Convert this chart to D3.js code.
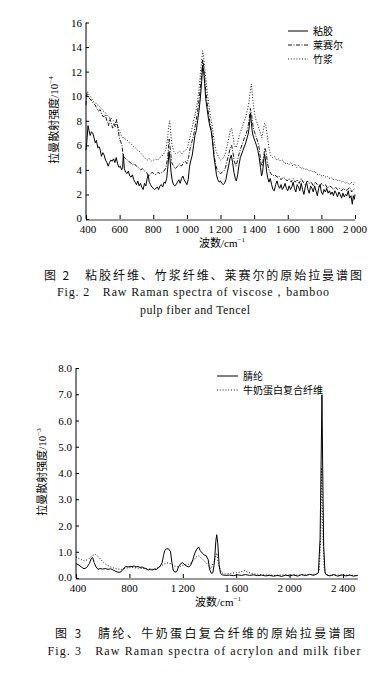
<!DOCTYPE html>
<html>
<head>
<meta charset="utf-8">
<script src="https://cdn.jsdelivr.net/npm/d3@7"></script>
<style>
  html, body { margin: 0; padding: 0; background: #fff; }
  svg { display: block; }
</style>
</head>
<body>
<svg id="chart" width="389" height="674"></svg>
<script>
// ---- Fig. 2 data (wavenumber cm-1, intensity 10^-4) ----
const viscose = [
  [400,5.6],[405,6.3],[412,7.6],[418,7.2],[425,6.8],[432,7.1],[440,7.0],[448,6.6],[455,6.2],[462,6.4],
  [470,5.8],[478,5.9],[485,5.6],[492,5.1],[500,5.4],[508,5.2],[516,4.8],[524,4.6],[532,4.3],[540,4.6],
  [548,4.8],[556,4.7],[564,4.9],[572,4.6],[580,5.0],[588,4.5],[596,4.2],[604,4.3],[612,4.0],[618,4.2],
  [622,5.3],[628,4.1],[636,3.8],[644,3.7],[652,3.9],[660,3.5],[668,3.4],[676,3.6],[684,3.2],[692,3.0],
  [700,2.8],[708,3.1],[716,2.7],[724,2.9],[732,2.6],[740,2.4],[748,2.9],[756,2.7],[764,3.3],[770,3.6],
  [776,3.0],[784,2.8],[792,2.6],[800,2.5],[808,2.4],[816,2.5],[824,2.6],[832,2.4],[840,2.7],[848,2.8],
  [856,2.6],[864,3.0],[872,2.9],[880,3.3],[888,4.4],[894,5.5],[900,4.8],[906,3.8],[912,3.2],[920,2.8],
  [928,2.7],[936,2.8],[944,3.0],[952,3.2],[960,2.9],[968,3.3],[976,3.5],[984,3.2],[992,3.0],[1000,2.8],
  [1008,3.2],[1016,4.3],[1024,4.8],[1032,5.2],[1040,6.0],[1048,6.8],[1056,7.2],[1064,8.0],[1072,8.8],[1080,9.8],
  [1088,11.2],[1094,12.5],[1100,12.0],[1106,11.0],[1112,9.8],[1120,9.0],[1128,8.2],[1136,7.6],[1144,7.2],[1152,6.4],
  [1160,5.2],[1168,4.4],[1176,3.6],[1184,3.2],[1192,3.0],[1200,3.1],[1208,2.9],[1216,2.8],[1224,2.9],[1232,3.2],
  [1240,3.8],[1248,4.3],[1256,4.9],[1264,5.2],[1272,4.6],[1280,3.8],[1288,3.3],[1294,3.1],[1302,3.6],[1310,4.4],
  [1318,5.0],[1326,5.3],[1334,5.6],[1342,5.9],[1350,6.2],[1358,6.6],[1366,7.0],[1372,7.6],[1378,8.6],[1384,7.8],
  [1390,7.0],[1398,6.6],[1406,6.3],[1414,6.0],[1422,5.6],[1430,5.0],[1438,4.2],[1444,3.5],[1450,3.8],[1456,4.6],
  [1462,5.3],[1468,4.8],[1474,3.9],[1480,3.4],[1488,3.0],[1496,3.3],[1504,2.8],[1512,2.4],[1520,2.3],[1528,2.8],
  [1536,3.1],[1544,2.7],[1552,2.5],[1560,2.8],[1568,2.4],[1576,2.6],[1584,2.9],[1592,2.5],[1600,2.3],[1608,2.7],
  [1616,2.4],[1624,2.6],[1632,3.0],[1640,2.5],[1648,2.2],[1656,2.8],[1664,2.6],[1672,2.3],[1680,2.9],[1688,2.4],
  [1696,2.0],[1704,2.6],[1712,3.0],[1720,2.4],[1728,2.1],[1736,2.7],[1744,2.5],[1752,2.2],[1760,2.7],[1768,2.3],
  [1776,1.9],[1784,2.5],[1792,2.8],[1800,2.2],[1808,2.0],[1816,2.4],[1824,2.2],[1832,2.5],[1840,2.1],[1848,2.3],
  [1856,2.0],[1864,2.2],[1872,1.9],[1880,2.3],[1888,2.1],[1896,1.8],[1904,2.2],[1912,2.0],[1920,1.7],[1928,2.1],
  [1936,1.8],[1944,2.0],[1952,1.9],[1960,2.3],[1968,1.7],[1976,1.9],[1984,1.2],[1990,1.9],[1996,1.6],[2000,2.0]
];
const lyocell = [
  [400,9.3],[406,10.2],[414,9.9],[424,9.8],[434,9.6],[444,9.4],[454,9.3],[464,9.0],[474,8.8],[484,8.9],
  [494,8.5],[504,8.3],[514,8.5],[524,8.0],[534,7.6],[542,8.2],[550,7.8],[558,7.4],[566,7.8],[574,7.5],
  [582,8.1],[590,7.4],[598,6.6],[606,6.3],[614,6.0],[620,5.2],[628,5.0],[640,4.9],[652,4.7],[664,4.6],
  [676,4.4],[688,4.5],[700,4.3],[712,4.2],[724,4.0],[736,4.1],[748,3.9],[760,3.8],[772,3.5],[782,3.6],
  [792,3.8],[804,3.7],[816,3.6],[828,3.8],[840,3.7],[852,3.8],[864,3.9],[876,4.2],[886,5.0],[894,6.5],
  [902,5.6],[910,4.6],[920,4.3],[932,4.1],[944,4.3],[956,4.5],[968,4.3],[980,4.6],[992,4.7],[1000,4.5],
  [1010,5.0],[1020,5.8],[1030,6.3],[1040,6.8],[1050,7.6],[1060,8.4],[1070,9.4],[1080,10.6],[1088,11.8],[1094,13.0],
  [1100,12.4],[1108,11.0],[1116,10.0],[1124,9.0],[1132,8.3],[1140,7.6],[1148,7.0],[1156,6.0],[1164,5.0],[1172,4.4],
  [1180,4.0],[1190,3.8],[1200,3.7],[1210,3.8],[1220,3.9],[1230,4.2],[1240,4.8],[1250,5.3],[1258,5.8],[1266,6.0],
  [1274,5.4],[1282,4.7],[1292,4.3],[1302,4.8],[1312,5.4],[1322,5.8],[1332,6.2],[1342,6.6],[1352,6.9],[1362,7.4],
  [1370,8.0],[1378,9.0],[1386,8.4],[1394,7.5],[1404,7.0],[1414,6.6],[1424,6.2],[1432,5.6],[1440,4.6],[1448,4.3],
  [1456,5.0],[1464,5.8],[1472,5.4],[1480,4.5],[1490,3.9],[1500,3.7],[1512,3.5],[1524,3.6],[1536,3.4],[1548,3.5],
  [1560,3.2],[1572,3.4],[1584,3.3],[1596,3.1],[1608,3.3],[1620,3.0],[1632,3.3],[1644,3.0],[1656,3.2],[1668,2.9],
  [1680,3.3],[1692,3.0],[1704,2.8],[1716,3.1],[1728,2.9],[1740,3.0],[1752,2.7],[1764,3.0],[1776,2.8],[1788,2.6],
  [1800,2.9],[1812,2.7],[1824,2.8],[1836,2.5],[1848,2.7],[1860,2.6],[1872,2.4],[1884,2.6],[1896,2.4],[1908,2.5],
  [1920,2.3],[1932,2.5],[1944,2.3],[1956,2.4],[1968,2.6],[1980,2.2],[1990,2.4],[2000,2.5]
];
const bamboo = [
  [400,10.0],[408,10.4],[418,10.1],[430,9.9],[442,9.6],[454,9.5],[466,9.3],[478,9.2],[490,9.0],[502,8.8],
  [514,8.7],[526,8.4],[538,8.3],[550,8.2],[562,8.0],[574,7.9],[586,7.6],[598,7.2],[610,6.8],[622,6.6],
  [634,6.5],[646,6.4],[658,6.2],[670,6.1],[682,5.9],[694,5.8],[706,5.6],[718,5.5],[730,5.3],[742,5.1],
  [754,4.9],[766,4.8],[778,4.9],[790,4.7],[802,4.8],[814,4.9],[826,4.8],[838,5.0],[850,5.1],[862,5.3],
  [874,5.6],[884,6.4],[892,7.6],[898,8.0],[904,7.0],[912,6.0],[922,5.5],[934,5.3],[946,5.4],[958,5.5],
  [970,5.3],[982,5.5],[994,5.6],[1004,5.8],[1014,6.4],[1024,7.0],[1034,7.6],[1044,8.2],[1054,8.8],[1064,9.6],
  [1074,10.8],[1084,12.4],[1094,13.7],[1100,13.2],[1108,12.0],[1116,11.0],[1124,10.0],[1132,9.2],[1140,8.4],[1148,7.8],
  [1156,7.0],[1164,6.2],[1172,5.6],[1180,5.3],[1190,5.0],[1200,4.8],[1210,4.9],[1220,5.0],[1230,5.4],[1240,6.0],
  [1250,6.6],[1258,7.2],[1266,7.4],[1274,6.8],[1282,6.0],[1292,5.8],[1302,6.2],[1312,6.8],[1322,7.2],[1332,7.6],
  [1342,8.0],[1352,8.4],[1362,9.0],[1370,9.6],[1378,10.6],[1384,11.0],[1390,10.0],[1398,9.0],[1408,8.2],[1418,7.8],
  [1428,7.4],[1438,7.0],[1446,6.6],[1454,7.2],[1462,7.8],[1470,7.6],[1478,6.8],[1488,5.8],[1498,5.2],[1510,5.0],
  [1522,5.1],[1534,4.8],[1546,4.9],[1558,4.7],[1570,4.8],[1582,4.5],[1594,4.6],[1606,4.4],[1618,4.6],[1630,4.3],
  [1642,4.5],[1654,4.2],[1666,4.4],[1678,4.1],[1690,4.2],[1702,4.0],[1714,4.1],[1726,3.9],[1738,4.0],[1750,3.8],
  [1762,3.9],[1774,3.6],[1786,3.7],[1798,3.5],[1810,3.6],[1822,3.4],[1834,3.5],[1846,3.3],[1858,3.4],[1870,3.2],
  [1882,3.3],[1894,3.1],[1906,3.2],[1918,3.0],[1930,3.1],[1942,2.9],[1954,3.0],[1966,2.8],[1978,3.0],[1990,2.8],[2000,3.0]
];
const fig2Names = ['粘胶', '莱赛尔', '竹浆'];
const fig2XTicks = [400, 600, 800, 1000, 1200, 1400, 1600, 1800, 2000];
const fig2YTicks = [0, 2, 4, 6, 8, 10, 12, 14, 16];

// ---- Fig. 3 data (wavenumber cm-1, intensity 10^-3) ----
const acrylon = [
  [400,0.55],[420,0.50],[440,0.42],[460,0.35],[480,0.40],[500,0.55],[515,0.75],[525,0.78],[535,0.60],[550,0.42],
  [565,0.33],[580,0.36],[600,0.34],[620,0.36],[640,0.33],[660,0.35],[680,0.30],[700,0.25],[715,0.22],[730,0.22],
  [745,0.28],[760,0.38],[775,0.44],[790,0.42],[805,0.45],[820,0.43],[835,0.46],[850,0.42],[865,0.44],[880,0.40],
  [895,0.42],[910,0.38],[925,0.36],[940,0.30],[955,0.34],[970,0.30],[985,0.34],[1000,0.32],[1015,0.38],[1030,0.45],
  [1045,0.58],[1055,0.85],[1065,1.05],[1080,1.12],[1095,1.10],[1108,1.00],[1118,0.60],[1128,0.30],[1140,0.22],[1155,0.25],
  [1170,0.45],[1185,0.55],[1200,0.58],[1215,0.50],[1230,0.45],[1245,0.42],[1260,0.50],[1275,0.70],[1290,0.95],[1305,1.10],
  [1318,1.18],[1330,1.05],[1345,0.95],[1360,0.88],[1375,0.85],[1390,0.70],[1400,0.35],[1412,0.18],[1425,0.20],[1437,0.60],
  [1447,1.40],[1454,1.65],[1462,1.30],[1472,0.50],[1482,0.18],[1495,0.12],[1520,0.10],[1550,0.11],[1580,0.09],[1610,0.12],
  [1640,0.10],[1670,0.13],[1700,0.10],[1730,0.12],[1760,0.09],[1790,0.11],[1820,0.08],[1850,0.10],[1880,0.07],[1910,0.10],
  [1940,0.06],[1970,0.11],[2000,0.08],[2030,0.12],[2060,0.07],[2090,0.13],[2120,0.09],[2150,0.14],[2180,0.10],[2200,0.15],
  [2215,0.20],[2228,1.50],[2236,4.50],[2242,6.98],[2248,4.00],[2255,1.20],[2265,0.20],[2275,0.12],[2300,0.08],[2330,0.13],
  [2360,0.07],[2390,0.12],[2420,0.08],[2450,0.11],[2480,0.07],[2510,0.10]
];
const milkFiber = [
  [400,0.80],[430,0.72],[460,0.65],[490,0.70],[520,0.85],[545,0.90],[570,0.80],[600,0.62],[630,0.50],[660,0.42],
  [700,0.35],[740,0.33],[780,0.38],[820,0.40],[860,0.38],[900,0.36],[940,0.34],[980,0.33],[1020,0.40],[1050,0.50],
  [1080,0.58],[1110,0.55],[1140,0.45],[1170,0.42],[1200,0.48],[1240,0.52],[1270,0.60],[1300,0.80],[1320,0.85],[1350,0.70],
  [1380,0.55],[1410,0.35],[1440,0.70],[1455,0.95],[1470,0.45],[1490,0.20],[1520,0.15],[1560,0.18],[1600,0.20],[1630,0.22],
  [1660,0.28],[1690,0.22],[1720,0.16],[1760,0.14],[1800,0.12],[1850,0.11],[1900,0.10],[1950,0.12],[2000,0.10],[2050,0.11],
  [2100,0.12],[2150,0.13],[2200,0.15],[2222,0.25],[2232,1.50],[2240,4.20],[2248,2.00],[2258,0.40],[2270,0.15],[2300,0.10],
  [2350,0.12],[2400,0.10],[2450,0.11],[2510,0.10]
];
const fig3Names = ['腈纶', '牛奶蛋白复合纤维'];
const fig3XTicks = [400, 800, 1200, 1600, 2000, 2400];
const fig3YTicks = [0, 1, 2, 3, 4, 5, 6, 7, 8];

const svg = d3.select('#chart');
const serif = '"Liberation Serif", "DejaVu Serif", serif';
const cjk = '"Noto Sans CJK SC", sans-serif';
const fmtThousands = v => v >= 1000 ? Math.floor(v / 1000) + '\u2009' + String(v % 1000).padStart(3, '0') : String(v);

function drawChart(cfg) {
  const x = d3.scaleLinear().domain(cfg.xDomain).range([cfg.left, cfg.right]);
  const y = d3.scaleLinear().domain(cfg.yDomain).range([cfg.bottom, cfg.top]);
  const g = svg.append('g');

  // x axis: grey thick base line, ticks pointing up
  const xAxis = g.append('g')
    .attr('transform', `translate(0,${cfg.bottom})`)
    .call(d3.axisTop(x).tickValues(cfg.xTicks).tickSize(4).tickFormat(''));
  xAxis.select('.domain').remove();
  xAxis.selectAll('line').attr('stroke', '#000');
  g.append('line')
    .attr('x1', cfg.left).attr('x2', cfg.right)
    .attr('y1', cfg.bottom + 1).attr('y2', cfg.bottom + 1)
    .attr('stroke', '#9a9a9a').attr('stroke-width', 2);
  g.append('g').selectAll('text')
    .data(cfg.xTicks).enter().append('text')
    .attr('x', d => x(d) + (d === cfg.xTicks[0] ? 2 : 0)).attr('y', cfg.bottom + 14)
    .attr('text-anchor', 'middle')
    .attr('font-family', serif).attr('font-size', 11)
    .text(fmtThousands);

  // y axis, ticks pointing right
  const yAxis = g.append('g')
    .attr('transform', `translate(${cfg.left},0)`)
    .call(d3.axisRight(y).tickValues(cfg.yTicks).tickSize(3).tickFormat(''));
  yAxis.select('.domain').attr('d', `M0,${cfg.bottom}V${cfg.top}`).attr('stroke', '#000');
  g.append('g').selectAll('text')
    .data(cfg.yTicks).enter().append('text')
    .attr('x', cfg.left - 4).attr('y', d => y(d) + (d === 0 ? 2.5 : 4))
    .attr('text-anchor', 'end')
    .attr('font-family', serif).attr('font-size', 11)
    .text(cfg.yFormat);

  // series
  const line = d3.line().x(d => x(d[0])).y(d => y(d[1]));
  cfg.series.forEach(s => {
    g.append('path')
      .datum(s.data)
      .attr('fill', 'none')
      .attr('stroke', '#000')
      .attr('stroke-width', s.width)
      .attr('stroke-dasharray', s.dash)
      .attr('stroke-linejoin', 'round')
      .attr('d', line);
  });

  // axis titles
  const xt = g.append('text')
    .attr('x', cfg.xTitleX).attr('y', cfg.xTitleY)
    .attr('text-anchor', 'middle')
    .attr('font-size', 11);
  xt.append('tspan').attr('font-family', cjk).text('波数');
  xt.append('tspan').attr('font-family', serif).text('/cm');
  xt.append('tspan').attr('font-family', serif).attr('font-size', 7).attr('dy', -5).text('−1');

  const yt = g.append('text')
    .attr('transform', `translate(${cfg.yTitleX},${cfg.yTitleY}) rotate(-90)`)
    .attr('text-anchor', 'middle')
    .attr('font-size', 11);
  yt.append('tspan').attr('font-family', cjk).text('拉曼散射强度');
  yt.append('tspan').attr('font-family', serif).text('/10');
  yt.append('tspan').attr('font-family', serif).attr('font-size', 7).attr('dy', -5).text(cfg.yExp);

  // legend
  cfg.series.forEach((s, i) => {
    const ly = cfg.legendY + i * cfg.legendStep;
    g.append('line')
      .attr('x1', cfg.legendX).attr('x2', cfg.legendX + cfg.legendLen)
      .attr('y1', ly).attr('y2', ly)
      .attr('stroke', '#000').attr('stroke-width', s.width)
      .attr('stroke-dasharray', s.dash);
    g.append('text')
      .attr('x', cfg.legendX + cfg.legendLen + 5).attr('y', ly + 3.5)
      .attr('font-family', cjk).attr('font-size', 10)
      .text(s.name);
  });
}

drawChart({
  xDomain: [400, 2000], yDomain: [0, 16],
  left: 86, right: 355, top: 22.5, bottom: 219,
  xTicks: fig2XTicks, yTicks: fig2YTicks, yFormat: d => d, yExp: '−4',
  xTitleX: 222, xTitleY: 247, yTitleX: 58, yTitleY: 120,
  legendX: 288, legendY: 31, legendStep: 14, legendLen: 20,
  series: [
    { name: fig2Names[0], data: viscose, width: 1, dash: null },
    { name: fig2Names[1], data: lyocell, width: 0.9, dash: '4,1.5,1,1.5' },
    { name: fig2Names[2], data: bamboo, width: 0.9, dash: '1,1.8' }
  ]
});

drawChart({
  xDomain: [400, 2512], yDomain: [0, 8],
  left: 76, right: 358, top: 368, bottom: 578,
  xTicks: fig3XTicks, yTicks: fig3YTicks, yFormat: d => d.toFixed(1), yExp: '−3',
  xTitleX: 218, xTitleY: 606, yTitleX: 46, yTitleY: 472,
  legendX: 217, legendY: 376, legendStep: 14, legendLen: 21,
  series: [
    { name: fig3Names[0], data: acrylon, width: 1, dash: null },
    { name: fig3Names[1], data: milkFiber, width: 0.9, dash: '1,1.8' }
  ]
});

// captions
function caption(txt, cx, cy, len, font, size) {
  svg.append('text')
    .attr('x', cx - len / 2).attr('y', cy)
    .attr('font-family', font).attr('font-size', size)
    .attr('textLength', len).attr('lengthAdjust', 'spacing')
    .attr('fill', '#111')
    .text(txt);
}
caption('图 2　粘胶纤维、竹浆纤维、莱赛尔的原始拉曼谱图', 203, 280, 318, cjk, 12);
caption('Fig. 2　Raw Raman spectra of viscose，bamboo', 193, 296, 272, serif, 12);
caption('pulp fiber and Tencel', 195, 314, 110, serif, 12);
caption('图 3　腈纶、牛奶蛋白复合纤维的原始拉曼谱图', 205, 638, 300, cjk, 12);
caption('Fig. 3　Raw Raman spectra of acrylon and milk fiber', 204, 655, 313, serif, 12);
</script>
</body>
</html>
